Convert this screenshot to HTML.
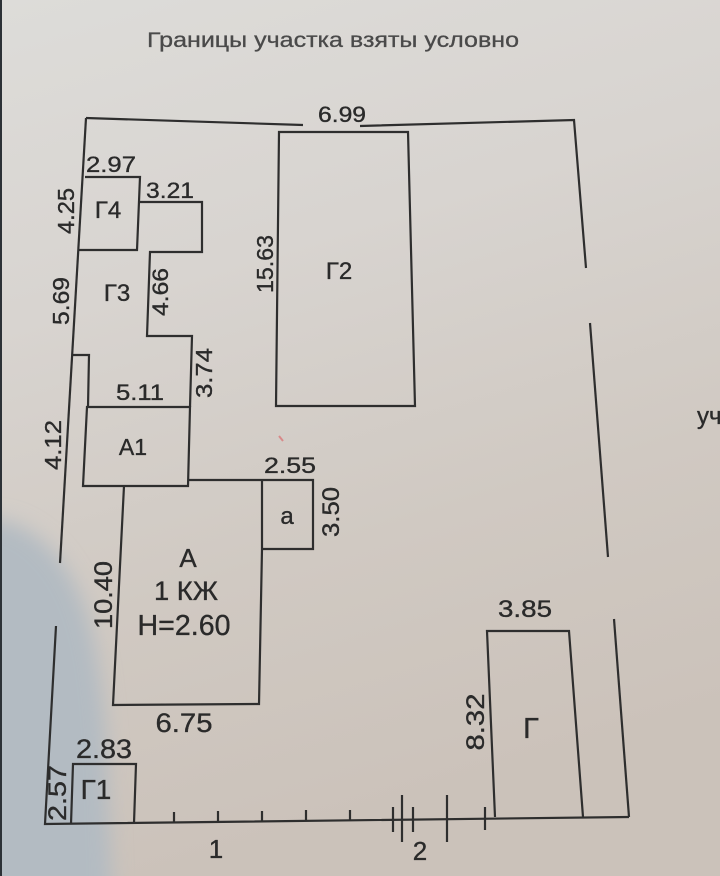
<!DOCTYPE html>
<html>
<head>
<meta charset="utf-8">
<style>
html,body{margin:0;padding:0;width:720px;height:876px;overflow:hidden;background:#d6d3cf;}
svg{display:block;}
text{font-family:"Liberation Sans","DejaVu Sans",sans-serif;fill:#2a2a2a;stroke:#2a2a2a;stroke-width:0.35;}
</style>
</head>
<body>
<svg width="720" height="876" viewBox="0 0 720 876" xmlns="http://www.w3.org/2000/svg">
<defs>
<linearGradient id="bg" x1="0" y1="0" x2="0.25" y2="1">
<stop offset="0" stop-color="#dddcd9"/>
<stop offset="0.35" stop-color="#d8d4d0"/>
<stop offset="0.7" stop-color="#d0c9c2"/>
<stop offset="1" stop-color="#cbc2ba"/>
</linearGradient>
<filter id="blur" x="-50%" y="-50%" width="200%" height="200%">
<feGaussianBlur stdDeviation="10"/>
</filter>
</defs>
<rect x="0" y="0" width="720" height="876" fill="url(#bg)"/>
<path d="M-20,520 C20,515 55,545 75,585 C95,625 102,680 106,740 L112,900 L-20,900 Z" fill="#b3bbc2" filter="url(#blur)"/>
<rect x="0" y="0" width="2" height="876" fill="#2c3136"/>

<!-- title -->
<text x="147" y="47" font-size="21" textLength="372" lengthAdjust="spacingAndGlyphs" style="fill:#4a4a4a;stroke:#4a4a4a;stroke-width:0.3">Границы участка взяты условно</text>

<g fill="none" stroke="#2e2e2e" stroke-width="2.2" stroke-linejoin="miter" stroke-linecap="butt">
<!-- outer boundary -->
<path d="M86,118 L303,125"/>
<path d="M360,126 L574,120 L586,268"/>
<path d="M590,323 L608,557"/>
<path d="M614,619 L629,817"/>
<path d="M86,118 L60,563"/>
<path d="M56,626 L45,824 L629,817"/>

<!-- G4 -->
<path d="M85,177 L140,177 L137,250 L79,250"/>
<!-- G3 outline -->
<path d="M139,202 L202,202 L202,252 L150,252 L147,336 L192,336 L190,407"/>
<path d="M73,355 L89,355 L88,407"/>
<!-- A1 -->
<path d="M87,407 L190,407 L188,486 L83,486 Z"/>
<!-- A -->
<path d="M188,480 L313,480 L313,549 L262,549"/>
<path d="M262,480 L262,549 L259,704 L113,705 L124,486"/>
<!-- G2 -->
<path d="M279,132 L408,132 L415,406 L276,406 Z"/>
<!-- G1 -->
<path d="M71,824 L73,764 L136,764 L134,823"/>
<!-- G -->
<path d="M495,817 L487,631 L569,631 L583,817"/>

<!-- ticks -->
<path d="M174,812 L174,822"/>
<path d="M218,811 L218,822"/>
<path d="M262,811 L262,821"/>
<path d="M306,810 L306,821"/>
<path d="M350,810 L350,820"/>
<path d="M393,807 L393,832"/>
<path d="M402,795 L402,842"/>
<path d="M413,807 L413,832"/>
<path d="M447,795 L447,842"/>
<path d="M485,807 L485,830"/>
</g>

<path d="M279,436 L283,441" stroke="#d88a8a" stroke-width="2"/>

<!-- horizontal labels -->
<g text-anchor="middle">
<text x="342" y="122" font-size="22" textLength="48" lengthAdjust="spacingAndGlyphs">6.99</text>
<text x="111" y="172" font-size="22" textLength="50" lengthAdjust="spacingAndGlyphs">2.97</text>
<text x="170" y="198" font-size="22" textLength="48" lengthAdjust="spacingAndGlyphs">3.21</text>
<text x="108" y="218" font-size="24">Г4</text>
<text x="117" y="301" font-size="24">Г3</text>
<text x="339" y="279" font-size="24">Г2</text>
<text x="140" y="400" font-size="22" textLength="48" lengthAdjust="spacingAndGlyphs">5.11</text>
<text x="133" y="455" font-size="23">А1</text>
<text x="290" y="473" font-size="22" textLength="52" lengthAdjust="spacingAndGlyphs">2.55</text>
<text x="287" y="524" font-size="24">а</text>
<text x="188" y="567" font-size="26">А</text>
<text x="186" y="600" font-size="27" textLength="64" lengthAdjust="spacingAndGlyphs">1 КЖ</text>
<text x="184" y="635" font-size="29" textLength="93" lengthAdjust="spacingAndGlyphs">Н=2.60</text>
<text x="184" y="732" font-size="27" textLength="57" lengthAdjust="spacingAndGlyphs">6.75</text>
<text x="104" y="758" font-size="27" textLength="56" lengthAdjust="spacingAndGlyphs">2.83</text>
<text x="96" y="799" font-size="28">Г1</text>
<text x="525" y="617" font-size="24" textLength="54" lengthAdjust="spacingAndGlyphs">3.85</text>
<text x="531" y="738" font-size="29">Г</text>
<text x="216" y="858" font-size="26">1</text>
<text x="420" y="860" font-size="26">2</text>
</g>
<text x="697" y="424" font-size="24">уч</text>

<!-- vertical labels -->
<g text-anchor="middle">
<text transform="translate(66,211) rotate(-90)" x="0" y="8" font-size="23" textLength="46" lengthAdjust="spacingAndGlyphs">4.25</text>
<text transform="translate(61,301) rotate(-90)" x="0" y="8" font-size="23" textLength="48" lengthAdjust="spacingAndGlyphs">5.69</text>
<text transform="translate(160,292) rotate(-90)" x="0" y="8" font-size="22" textLength="48" lengthAdjust="spacingAndGlyphs">4.66</text>
<text transform="translate(204,373) rotate(-90)" x="0" y="8" font-size="23" textLength="50" lengthAdjust="spacingAndGlyphs">3.74</text>
<text transform="translate(53,445) rotate(-90)" x="0" y="8" font-size="23" textLength="50" lengthAdjust="spacingAndGlyphs">4.12</text>
<text transform="translate(330,512) rotate(-90)" x="0" y="9" font-size="24" textLength="50" lengthAdjust="spacingAndGlyphs">3.50</text>
<text transform="translate(265,264) rotate(-90)" x="0" y="8" font-size="23" textLength="58" lengthAdjust="spacingAndGlyphs">15.63</text>
<text transform="translate(103,595) rotate(-90)" x="0" y="9" font-size="25" textLength="68" lengthAdjust="spacingAndGlyphs">10.40</text>
<text transform="translate(57,793) rotate(-90)" x="0" y="9" font-size="25" textLength="56" lengthAdjust="spacingAndGlyphs">2.57</text>
<text transform="translate(475,722) rotate(-90)" x="0" y="9" font-size="25" textLength="57" lengthAdjust="spacingAndGlyphs">8.32</text>
</g>
</svg>
</body>
</html>
